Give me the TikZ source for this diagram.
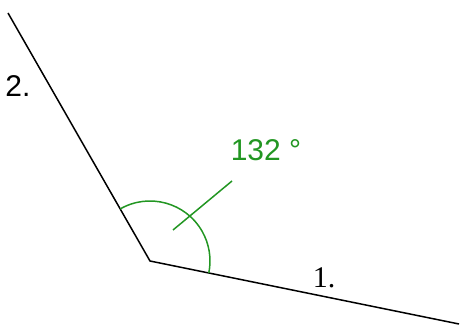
\documentclass[tikz,border=0pt]{standalone}
\usepackage{fontspec}
\setmainfont{Liberation Sans}
\newfontfamily\serifone{Liberation Serif}
\definecolor{anggreen}{RGB}{34,150,34}
\begin{document}
\begin{tikzpicture}[x=1pt,y=1pt,
  leg/.style={line width=1.5pt,black},
  angmark/.style={line width=1.5pt,anggreen},
  lbl/.style={inner sep=0pt,font=\fontsize{30}{31}\selectfont}]
\useasboundingbox (0,0) rectangle (460,327);
\coordinate (V) at (150,66);
\coordinate (A) at (459,3);
\coordinate (B) at (8,314);
\draw[leg] (B) -- (V) -- (A);
\draw[angmark] (V) ++(119.8:60) arc[start angle=119.8,end angle=-11.5,radius=60];
\coordinate (L1) at (173,97);
\coordinate (L2) at (232,146);
\draw[angmark] (L1) -- (L2);
\node[lbl,text=anggreen] (deg) at (266,177) {132 °};
\node[lbl] (two) at (18,241) {2.};
\node[lbl] (one) at (324,49) {\serifone 1.};
\end{tikzpicture}
\end{document}
